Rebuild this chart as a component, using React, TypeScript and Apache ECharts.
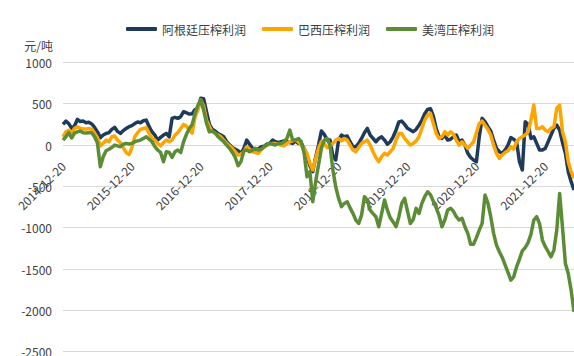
import React, { useEffect, useRef } from "react";
import * as echarts from "echarts";

// Semi-monthly observations (5th and 20th of each month) from 2014-12-20.
const START = { year: 2014, month: 12, day: 20 };

const SERIES_NAMES = ["阿根廷压榨利润", "巴西压榨利润", "美湾压榨利润"];
const Y_UNIT = "元/吨";

const TICK_LABELS = [
  "2014-12-20",
  "2015-12-20",
  "2016-12-20",
  "2017-12-20",
  "2018-12-20",
  "2019-12-20",
  "2020-12-20",
  "2021-12-20",
];

const ARGENTINA = [
  250, 290, 260, 205, 230, 310, 285, 290, 270, 275,
  255, 214, 160, 90, 121, 141, 149, 190, 214, 165,
  141, 175, 200, 222, 235, 260, 280, 270, 294, 302,
  222, 161, 121, 60, 93, 121, 141, 100, 323, 335,
  323, 343, 403, 391, 375, 380, 430, 444, 565, 560,
  400, 250, 190, 170, 140, 121, 100, 40, 5, -30,
  -50, -70, -100, -40, 60, 10, -40, -60, -50, -20,
  -15, 10, 20, 60, 40, 28, 40, 50, 40, 30,
  20, 50, 20, 20, -40, -130, -250, -322, -150, 0,
  170, 130, 60, 60, -130, -181, 60, 120, 100, 110,
  40, -20, -20, 20, 80, 150, 202, 121, 80, 40,
  80, 100, 60, 10, 40, 100, 180, 280, 290, 250,
  202, 181, 161, 190, 240, 300, 380, 430, 440, 350,
  200, 100, 80, 121, 60, 70, 100, 121, 40, 60,
  0, -100, -150, -181, -202, 100, 323, 282, 222, 170,
  60, -40, -81, -100, -60, 0, 90, 70, 40, -202,
  -300, 282, 250, 80, 100, 20, -60, -60, -40, 40,
  121, 202, 242, 180, 30, -100, -322, -443, -544,
];

const BRAZIL = [
  100, 161, 180, 145, 200, 220, 205, 195, 193, 200,
  190, 145, 90, -10, 20, 60, 40, 100, 109, 60,
  30, -30, -90, -115, -30, 100, 150, 190, 200, 210,
  140, 80, 60, 20, -10, 30, 60, 40, 60, 120,
  150, 200, 250, 230, 181, 145, 343, 423, 545, 470,
  300, 222, 161, 140, 121, 100, 60, 20, -10, -40,
  -80, -121, -110, -81, -20, -50, -81, -90, -100, -60,
  -30, 0, 10, 20, 20, 10, 0, -10, 20, 40,
  50, 60, 40, 0, -40, -100, -222, -302, -161, -40,
  40, 20, -30, -20, 20, 60, 80, 50, 80, 60,
  0, -60, -80, -30, 20, 40, 60, 0, -81, -150,
  -202, -141, -100, -121, -80, -40, 60, 140, 140, 80,
  40, 0, 20, 50, 100, 200, 300, 363, 383, 260,
  140, 80, 100, 161, 121, 161, 130, 60, 0, 40,
  0, -40, 0, 40, 150, 260, 290, 240, 190, 121,
  0, -100, -161, -120, -90, -70, -20, -50, 40, 80,
  100, 121, 160, 300, 484, 200, 200, 222, 181, 161,
  202, 222, 444, 484, 161, 40, -202, -322, -403,
];

const US_GULF = [
  60, 100, 150, 85, 145, 160, 170, 150, 145, 150,
  150, 100, 24, -262, -141, -70, -50, -30, 0, -10,
  -20, 10, 20, 12, 20, 40, 50, 60, 80, 100,
  70, 40, -20, -60, -90, -202, -80, -90, -150, -80,
  -60, -90, 40, 130, 200, 250, 383, 484, 545, 420,
  262, 160, 170, 150, 100, 70, 40, 0, -40, -90,
  -150, -250, -200, -70, -60, -81, -60, -40, -60, -50,
  -20, 0, 20, 10, 0, 20, 20, 40, 80, 181,
  60, 60, 80, 40, -100, -383, -322, -685, -443, -242,
  -40, 60, 80, 0, -300, -504, -645, -746, -706, -686,
  -760, -827, -907, -948, -847, -625, -665, -787, -830, -867,
  -988, -827, -665, -787, -880, -930, -988, -867, -706, -645,
  -800, -950, -900, -766, -827, -706, -625, -565, -600, -680,
  -760, -850, -988, -907, -787, -766, -800, -867, -907, -887,
  -988, -1068, -1200, -1200, -1120, -1029, -948, -605, -700, -867,
  -1068, -1210, -1290, -1360, -1450, -1540, -1634, -1594, -1473, -1380,
  -1280, -1240, -1180, -1080, -907, -867, -950, -1150, -1230, -1290,
  -1352, -1271, -1029, -585, -1000, -1432, -1553, -1755, -2017,
];

const COLORS = ["#1f3b5c", "#ffa500", "#5b8c36"];

const pad = (n: number) => (n < 10 ? "0" + n : String(n));

function buildDates(count: number): string[] {
  const out: string[] = [];
  let { year, month, day } = START;
  while (out.length < count) {
    out.push(`${year}-${pad(month)}-${pad(day)}`);
    if (day === 20) {
      day = 5;
      month += 1;
      if (month > 12) {
        month = 1;
        year += 1;
      }
    } else {
      day = 20;
    }
  }
  return out;
}

const FONT = "'Noto Sans CJK SC', 'Noto Sans', sans-serif";
const TEXT_COLOR = "#404040";

// Plot frame (pixels) and the pixel offset that lifts the date labels up to
// sit just under the zero line.
const GRID = { left: 63, right: 0, top: 62.4, bottom: 4.3 };
const DATE_LABEL_MARGIN = -188;

export default function App() {
  const ref = useRef<HTMLDivElement>(null);

  useEffect(() => {
    if (!ref.current) return;
    const chart = echarts.init(ref.current, null, { renderer: "svg" });
    const dates = buildDates(ARGENTINA.length);
    const seriesData = [ARGENTINA, BRAZIL, US_GULF];

    chart.setOption({
      animation: false,
      backgroundColor: "#ffffff",
      textStyle: { fontFamily: FONT },
      legend: {
        top: 18,
        left: 121,
        icon: "roundRect",
        itemWidth: 31,
        itemHeight: 4,
        itemGap: 16,
        selectedMode: false,
        textStyle: { fontSize: 12, color: TEXT_COLOR, fontFamily: FONT },
        data: SERIES_NAMES,
      },
      grid: { ...GRID, containLabel: false, outerBoundsMode: "none" },
      xAxis: {
        type: "category",
        data: dates,
        boundaryGap: false,
        axisLine: { show: false, onZero: false },
        axisTick: { show: false },
        axisLabel: {
          rotate: 45,
          fontSize: 12,
          color: TEXT_COLOR,
          fontFamily: FONT,
          margin: DATE_LABEL_MARGIN,
          hideOverlap: false,
          interval: (_i: number, value: string) => TICK_LABELS.includes(value),
        },
        splitLine: { show: false },
      },
      yAxis: {
        type: "value",
        min: -2500,
        max: 1000,
        interval: 500,
        name: Y_UNIT,
        nameLocation: "end",
        nameGap: 11,
        nameTextStyle: {
          fontSize: 12,
          lineHeight: 12,
          color: TEXT_COLOR,
          fontFamily: FONT,
          align: "right",
          verticalAlign: "bottom",
          padding: [0, 10, 0, 0],
        },
        axisLine: { show: false },
        axisTick: { show: false },
        axisLabel: {
          fontSize: 12,
          lineHeight: 13,
          color: TEXT_COLOR,
          fontFamily: FONT,
          margin: 11,
          formatter: (v: number) => String(v),
        },
        splitLine: { lineStyle: { color: "#d9d9d9", width: 1 } },
      },
      series: SERIES_NAMES.map((name, k) => ({
        name,
        type: "line",
        data: seriesData[k],
        symbol: "none",
        showSymbol: false,
        color: COLORS[k],
        lineStyle: { width: 3.5, color: COLORS[k], join: "round" },
      })),
    });

    return () => chart.dispose();
  }, []);

  return (
    <div
      ref={ref}
      style={{ position: "fixed", left: 0, top: 0, width: 574, height: 356 }}
    />
  );
}
